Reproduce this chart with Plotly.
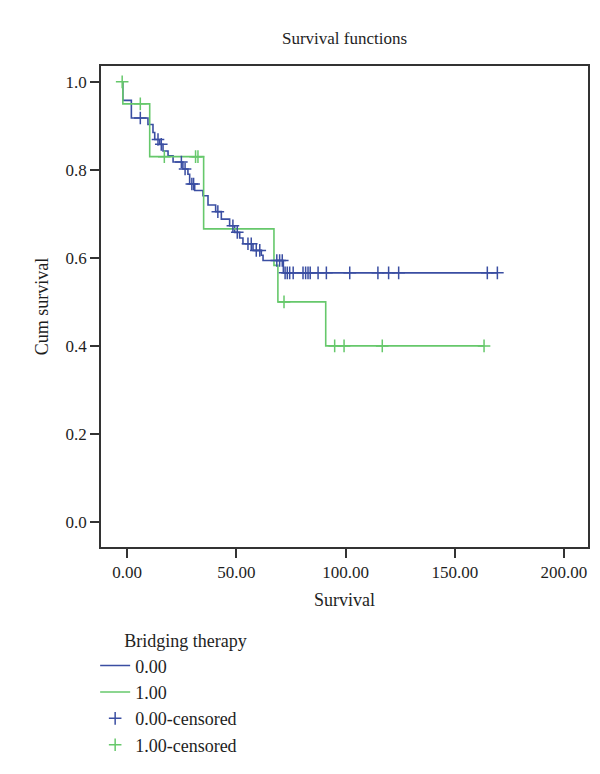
import plotly.graph_objects as go

# ---- data ----
# group 0.00 (blue): event times and survival after each event
blue_event_t = [-2.0, 1.9, 9.5, 11.8, 12.6, 14.9, 16.4, 18.7, 21.0, 25.5, 27.8, 28.6,
                30.9, 34.7, 37.0, 40.5, 43.1, 46.9, 49.2, 51.5, 53.0, 57.6, 61.4, 62.2, 71.5]
blue_event_s = [0.958, 0.918, 0.903, 0.885, 0.869, 0.858, 0.843, 0.832, 0.818, 0.802, 0.790, 0.768,
                0.753, 0.741, 0.720, 0.705, 0.688, 0.673, 0.658, 0.645, 0.632, 0.617, 0.606, 0.594, 0.566]
blue_censored_t = [6.0, 14.1, 15.6, 24.8, 26.5, 29.6, 30.4, 41.5, 48.4, 50.4, 55.3, 56.8, 59.1, 60.7,
                   68.5, 69.8, 71.0, 72.3, 73.3, 74.4, 76.0, 80.5, 81.7, 82.8, 83.8, 87.4, 91.2,
                   101.9, 114.8, 119.7, 124.3, 164.9, 169.5]

# group 1.00 (green)
green_event_t = [-2.0, 10.3, 35.0, 67.2, 69.0, 90.9]
green_event_s = [0.950, 0.830, 0.666, 0.583, 0.500, 0.400]
green_censored_t = [-2.3, 6.0, 17.0, 31.3, 32.4, 71.8, 95.0, 99.3, 116.8, 163.4]

x_tick_vals = [0, 50, 100, 150, 200]
x_tick_text = ["0.00", "50.00", "100.00", "150.00", "200.00"]
y_tick_vals = [0.0, 0.2, 0.4, 0.6, 0.8, 1.0]
y_tick_text = ["0.0", "0.2", "0.4", "0.6", "0.8", "1.0"]

BLUE = "#3a4ea2"
GREEN = "#66c86b"
FONT = "Liberation Serif"
TXT = "#1e1e1e"


def step_path(event_t, event_s, end_t):
    xs = [min(event_t[0], -2.0)] + list(event_t) + [end_t]
    ys = [1.0] + list(event_s) + [event_s[-1]]
    return xs, ys


def surv_at(t, event_t, event_s):
    s = 1.0
    for et, es in zip(event_t, event_s):
        if et <= t:
            s = es
    return s


bx, by = step_path(blue_event_t, blue_event_s, max(blue_censored_t))
gx, gy = step_path(green_event_t, green_event_s, max(green_censored_t))

fig = go.Figure()
fig.add_trace(go.Scatter(x=bx, y=by, mode="lines", line=dict(shape="hv", color=BLUE, width=1.6),
                         name="0.00"))
fig.add_trace(go.Scatter(x=gx, y=gy, mode="lines", line=dict(shape="hv", color=GREEN, width=1.6),
                         name="1.00"))
fig.add_trace(go.Scatter(x=blue_censored_t,
                         y=[surv_at(t, blue_event_t, blue_event_s) for t in blue_censored_t],
                         mode="markers", name="0.00-censored",
                         marker=dict(symbol="cross-thin", size=9, color=BLUE,
                                     line=dict(color=BLUE, width=1.5))))
fig.add_trace(go.Scatter(x=green_censored_t,
                         y=[surv_at(t, green_event_t, green_event_s) for t in green_censored_t],
                         mode="markers", name="1.00-censored",
                         marker=dict(symbol="cross-thin", size=9, color=GREEN,
                                     line=dict(color=GREEN, width=1.5))))

axis_common = dict(showgrid=False, zeroline=False, showline=True, linecolor="#333333",
                   linewidth=1.5, mirror=True, ticks="outside", ticklen=9, tickwidth=1.5,
                   tickcolor="#333333", tickfont=dict(family=FONT, size=17, color=TXT))

fig.update_layout(
    width=600, height=774,
    margin=dict(l=93, r=20, t=58, b=235),
    paper_bgcolor="white", plot_bgcolor="white",
    font=dict(family=FONT, size=17, color=TXT),
    title=dict(text="Survival functions", x=0.5, xref="paper", xanchor="center",
               y=1 - 30 / 774, yanchor="middle", font=dict(family=FONT, size=17, color=TXT)),
    xaxis=dict(range=[-12, 211], tickvals=x_tick_vals, ticktext=x_tick_text,
               title=dict(text="Survival", standoff=12, font=dict(family=FONT, size=18)),
               **axis_common),
    yaxis=dict(range=[-0.057, 1.036], tickvals=y_tick_vals, ticktext=y_tick_text,
               title=dict(text="Cum survival", standoff=12, font=dict(family=FONT, size=18)),
               **axis_common),
    legend=dict(title=dict(text="\u2002\u2002\u2002Bridging therapy", font=dict(family=FONT, size=18)),
                x=-0.012, xanchor="left", y=-0.16, yanchor="top",
                font=dict(family=FONT, size=18, color=TXT),
                bgcolor="rgba(0,0,0,0)", itemwidth=30),
    showlegend=True,
)

fig.write_html("out.html")
